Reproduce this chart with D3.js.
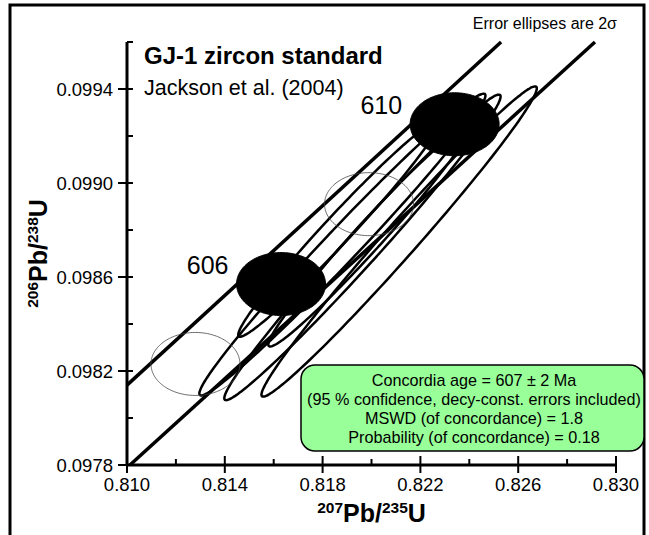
<!DOCTYPE html>
<html>
<head>
<meta charset="utf-8">
<script src="https://cdn.jsdelivr.net/npm/d3@7"></script>
<style>
  body { margin: 0; background: #fff; }
  svg { display: block; font-family: "Liberation Sans", Arial, sans-serif; }
</style>
</head>
<body>
<svg id="chart" width="649" height="535"></svg>
<script>
// axis ticks
let xMajor = [0.810, 0.814, 0.818, 0.822, 0.826, 0.830]
let xMinor = [0.812, 0.816, 0.820, 0.824, 0.828]
let yMajor = [0.0978, 0.0982, 0.0986, 0.0990, 0.0994]
let yMinor = [0.0980, 0.0984, 0.0988, 0.0992, 0.0996]

// concordia band edges (207Pb/235U, 206Pb/238U)
let bandUpper = [[0.8100, 0.09814], [0.82530, 0.09960]]
let bandLower = [[0.81012, 0.09780], [0.82914, 0.09960]]

// age markers on concordia (Ma), with decay-constant error ellipse
let markerAge = [604, 606, 608, 610]
let markerX = [0.8128, 0.8163, 0.8199, 0.8234]
let markerY = [0.09823, 0.09857, 0.09891, 0.09925]
let markerErrX = [0.00182, 0.00182, 0.00182, 0.00182]
let markerErrY = [0.000134, 0.000134, 0.000134, 0.000134]
let markerLabelled = [false, true, false, true]

// analyses: centre, 2 sigma errors, error correlation
let ellX = [0.81881, 0.81963, 0.82113, 0.81865, 0.81988]
let ellY = [0.098738, 0.098726, 0.098751, 0.098804, 0.098772]
let ellSx = [0.00585, 0.00565, 0.00563, 0.00410, 0.00410]
let ellSy = [0.000642, 0.000650, 0.000660, 0.000458, 0.000468]
let ellRho = [0.987, 0.987, 0.987, 0.982, 0.982]

let resultLines = [
    "Concordia age = 607 \u00b1 2 Ma",
    "(95 % confidence, decy-const. errors included)",
    "MSWD (of concordance) = 1.8",
    "Probability (of concordance) = 0.18"
]

let svg = d3.select('#chart')

let x = d3.scaleLinear().domain([0.810, 0.830]).range([127, 616])
let y = d3.scaleLinear().domain([0.0978, 0.0996]).range([465, 42])

// outer frame
svg.append('rect')
    .attr('x', 10).attr('y', 5)
    .attr('width', 634).attr('height', 545)
    .attr('fill', 'none')
    .attr('stroke', '#000')
    .attr('stroke-width', 3)

function ellipsePath(cx, cy, sx, sy, rho) {
    let pts = d3.range(0, 360, 2).map(a => {
        let t = a * Math.PI / 180
        let dx = sx * Math.cos(t)
        let dy = sy * (rho * Math.cos(t) + Math.sqrt(1 - rho * rho) * Math.sin(t))
        return [x(cx + dx), y(cy + dy)]
    })
    return d3.line().curve(d3.curveCardinalClosed)(pts)
}

let plot = svg.append('g')

// concordia band
plot.selectAll('.band')
    .data([bandUpper, bandLower])
    .join('path')
        .attr('class', 'band')
        .attr('d', d => d3.line().x(p => x(p[0])).y(p => y(p[1]))(d))
        .attr('fill', 'none')
        .attr('stroke', '#000')
        .attr('stroke-width', 3.5)

// data ellipses
plot.selectAll('.ell')
    .data(d3.range(ellX.length))
    .join('path')
        .attr('class', 'ell')
        .attr('d', i => ellipsePath(ellX[i], ellY[i], ellSx[i], ellSy[i], ellRho[i]))
        .attr('fill', 'none')
        .attr('stroke', '#000')
        .attr('stroke-width', 2.5)

// age markers
plot.selectAll('.marker')
    .data(d3.range(markerAge.length))
    .join('path')
        .attr('class', 'marker')
        .attr('d', i => ellipsePath(markerX[i], markerY[i], markerErrX[i], markerErrY[i], 0))
        .attr('fill', i => markerLabelled[i] ? '#000' : 'none')
        .attr('stroke', i => markerLabelled[i] ? '#000' : '#444')
        .attr('stroke-width', i => markerLabelled[i] ? 1 : 0.8)

plot.selectAll('.age')
    .data(d3.range(markerAge.length).filter(i => markerLabelled[i]))
    .join('text')
        .attr('class', 'age')
        .attr('x', i => x(markerX[i] - markerErrX[i]) - 8)
        .attr('y', i => y(markerY[i]) - 10)
        .attr('text-anchor', 'end')
        .attr('font-size', 25)
        .text(i => markerAge[i])

// axes
let axes = svg.append('g').attr('stroke', '#000')
axes.append('line')
    .attr('x1', x(0.810)).attr('x2', x(0.830))
    .attr('y1', y(0.0978)).attr('y2', y(0.0978))
    .attr('stroke-width', 3)
axes.append('line')
    .attr('x1', x(0.810)).attr('x2', x(0.810))
    .attr('y1', y(0.0978)).attr('y2', y(0.0996))
    .attr('stroke-width', 3)

axes.selectAll('.xmaj').data(xMajor).join('line')
    .attr('x1', d => x(d)).attr('x2', d => x(d))
    .attr('y1', y(0.0978) - 9).attr('y2', y(0.0978) + 8)
    .attr('stroke-width', 2)
axes.selectAll('.xmin').data(xMinor).join('line')
    .attr('x1', d => x(d)).attr('x2', d => x(d))
    .attr('y1', y(0.0978) - 6).attr('y2', y(0.0978))
    .attr('stroke-width', 2)
axes.selectAll('.ymaj').data(yMajor).join('line')
    .attr('x1', x(0.810) - 9).attr('x2', x(0.810) + 6)
    .attr('y1', d => y(d)).attr('y2', d => y(d))
    .attr('stroke-width', 2)
axes.selectAll('.ymin').data(yMinor).join('line')
    .attr('x1', x(0.810)).attr('x2', x(0.810) + 6)
    .attr('y1', d => y(d)).attr('y2', d => y(d))
    .attr('stroke-width', 2)

svg.selectAll('.xlab').data(xMajor).join('text')
    .attr('x', d => x(d))
    .attr('y', y(0.0978) + 26)
    .attr('text-anchor', 'middle')
    .attr('font-size', 18.5)
    .text(d => d3.format('.3f')(d))

svg.selectAll('.ylab').data(yMajor).join('text')
    .attr('x', x(0.810) - 14)
    .attr('y', d => y(d) + 6.5)
    .attr('text-anchor', 'end')
    .attr('font-size', 18.5)
    .text(d => d3.format('.4f')(d))

// axis titles
let xt = svg.append('text')
    .attr('x', (x(0.810) + x(0.830)) / 2)
    .attr('y', 522)
    .attr('text-anchor', 'middle')
    .attr('font-weight', 'bold')
    .attr('font-size', 25)
xt.append('tspan').attr('font-size', 15.5).attr('dy', -9).text('207')
xt.append('tspan').attr('dy', 9).text('Pb/')
xt.append('tspan').attr('font-size', 15.5).attr('dy', -9).text('235')
xt.append('tspan').attr('dy', 9).text('U')

let yt = svg.append('text')
    .attr('transform', `translate(47, ${(y(0.0978) + y(0.0996)) / 2}) rotate(-90)`)
    .attr('text-anchor', 'middle')
    .attr('font-weight', 'bold')
    .attr('font-size', 25)
yt.append('tspan').attr('font-size', 15.5).attr('dy', -9).text('206')
yt.append('tspan').attr('dy', 9).text('Pb/')
yt.append('tspan').attr('font-size', 15.5).attr('dy', -9).text('238')
yt.append('tspan').attr('dy', 9).text('U')

// titles
svg.append('text')
    .attr('x', 144).attr('y', 64)
    .attr('font-size', 24).attr('font-weight', 'bold')
    .text('GJ-1 zircon standard')
svg.append('text')
    .attr('x', 144).attr('y', 95)
    .attr('font-size', 21.5)
    .text('Jackson et al. (2004)')
svg.append('text')
    .attr('x', 617).attr('y', 29)
    .attr('text-anchor', 'end')
    .attr('font-size', 16)
    .text('Error ellipses are 2\u03c3')

// result box
let box = svg.append('g')
box.append('rect')
    .attr('x', 301).attr('y', 365)
    .attr('width', 343).attr('height', 86)
    .attr('rx', 14).attr('ry', 14)
    .attr('fill', '#99ff99')
    .attr('stroke', '#000')
    .attr('stroke-width', 1.5)
box.selectAll('text').data(resultLines).join('text')
    .attr('x', 474)
    .attr('y', (d, i) => 386 + i * 19)
    .attr('text-anchor', 'middle')
    .attr('font-size', 16.2)
    .text(d => d)
</script>
</body>
</html>
